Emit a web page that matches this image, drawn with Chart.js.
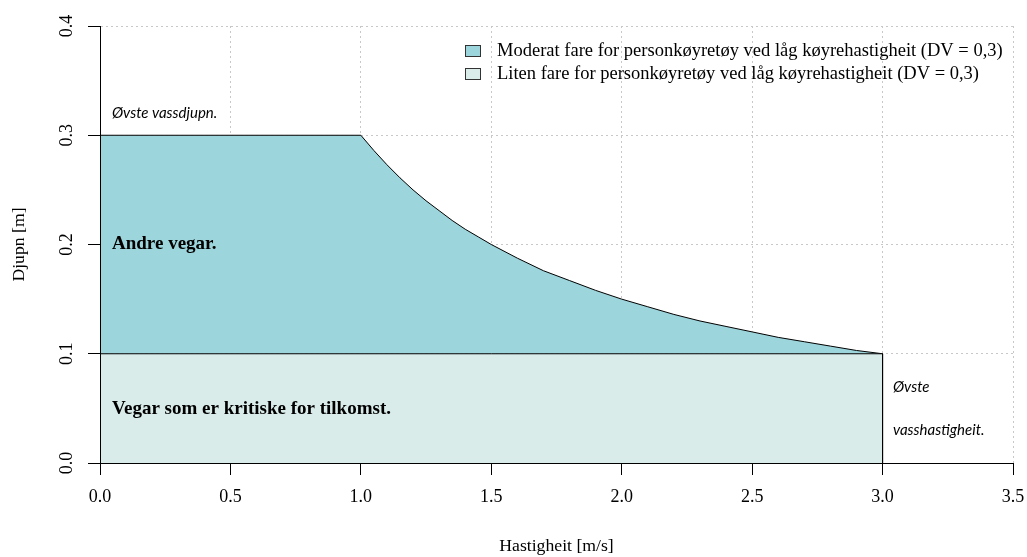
<!DOCTYPE html>
<html>
<head>
<meta charset="utf-8">
<script src="https://cdn.jsdelivr.net/npm/chart.js@4.4.1/dist/chart.umd.min.js"></script>
<style>
  html, body { margin: 0; padding: 0; background: #fff; }
  #wrap { width: 1027px; height: 557px; }
</style>
</head>
<body>
<div id="wrap"><canvas id="chart"></canvas></div>
<script>
// Hastigheit [m/s] og djupn [m] for dei to fareområda
const seriesLabels = [
  "Moderat fare for personkøyretøy ved låg køyrehastigheit (DV = 0,3)",
  "Liten fare for personkøyretøy ved låg køyrehastigheit (DV = 0,3)"
];
const moderatSpeed = [0, 0, 1.0, 1.05, 1.1, 1.15, 1.2, 1.25, 1.3, 1.35, 1.4, 1.45, 1.5, 1.6, 1.7, 1.8, 1.9,
  2.0, 2.1, 2.2, 2.3, 2.4, 2.5, 2.6, 2.7, 2.8, 2.9, 3.0];
const moderatDepth = [0.1, 0.3, 0.3, 0.286, 0.273, 0.261, 0.25, 0.24, 0.231, 0.222, 0.214, 0.207, 0.2, 0.1875, 0.176, 0.167, 0.158,
  0.15, 0.143, 0.136, 0.130, 0.125, 0.12, 0.115, 0.111, 0.107, 0.103, 0.1];
const litenSpeed = [0, 0, 3.0, 3.0];
const litenDepth = [0, 0.1, 0.1, 0];

const xTicks = [0, 0.5, 1.0, 1.5, 2.0, 2.5, 3.0, 3.5];
const yTicks = [0, 0.1, 0.2, 0.3, 0.4];

const moderatColor = "#9dd5dc";
const litenColor = "#d9ecea";

const toPoints = (xs, ys) => xs.map((x, i) => ({ x: x, y: ys[i] }));

// tekst inne i plottet, plassert i dataeiningar
const notes = [
  { text: "Øvste vassdjupn.", x: 0.046, y: 0.32, font: "italic 15px Lato" },
  { text: "Andre vegar.", x: 0.046, y: 0.2, font: "bold 19px 'Liberation Serif'" },
  { text: "Vegar som er kritiske for tilkomst.", x: 0.046, y: 0.049, font: "bold 19px 'Liberation Serif'" },
  { text: "Øvste", x: 3.04, y: 0.0695, font: "italic 15px Lato" },
  { text: "vasshastigheit.", x: 3.04, y: 0.0302, font: "italic 15px Lato" }
];

const notePlugin = {
  id: "notes",
  afterDatasetsDraw(chart) {
    const ctx = chart.ctx;
    const xs = chart.scales.x, ys = chart.scales.y;
    ctx.save();
    ctx.fillStyle = "#000";
    ctx.textBaseline = "middle";
    ctx.textAlign = "left";
    notes.forEach(n => {
      ctx.font = n.font;
      ctx.fillText(n.text, xs.getPixelForValue(n.x), ys.getPixelForValue(n.y));
    });
    ctx.restore();
  }
};

// forklaring oppe til høgre, som i R
const legendPlugin = {
  id: "rlegend",
  afterDraw(chart) {
    const ctx = chart.ctx;
    const left = 465, top = 50.5, step = 23;
    const fills = [moderatColor, litenColor];
    ctx.save();
    ctx.font = "18.5px 'Liberation Serif'";
    ctx.textBaseline = "middle";
    ctx.textAlign = "left";
    seriesLabels.forEach((lab, i) => {
      const cy = top + i * step;
      ctx.fillStyle = fills[i];
      ctx.fillRect(left, cy - 5.5, 15, 11);
      ctx.strokeStyle = "#333";
      ctx.lineWidth = 1;
      ctx.strokeRect(left + 0.5, cy - 5, 15, 11);
      ctx.fillStyle = "#000";
      ctx.fillText(lab, 497, cy + 1);
    });
    ctx.restore();
  }
};

const tickFont = { family: "'Liberation Serif'", size: 18 };
const titleFont = { family: "'Liberation Serif'", size: 17.7 };

new Chart(document.getElementById("chart"), {
  type: "line",
  data: {
    datasets: [
      {
        label: seriesLabels[1],
        data: toPoints(litenSpeed, litenDepth),
        borderColor: "#000",
        borderWidth: 1,
        backgroundColor: litenColor,
        fill: "origin",
        pointRadius: 0,
        tension: 0
      },
      {
        label: seriesLabels[0],
        data: toPoints(moderatSpeed, moderatDepth),
        borderColor: "#000",
        borderWidth: 1,
        backgroundColor: moderatColor,
        fill: { value: 0.1 },
        pointRadius: 0,
        tension: 0
      }
    ]
  },
  options: {
    responsive: true,
    maintainAspectRatio: false,
    animation: false,
    layout: { padding: { top: 26, right: 14, left: 0, bottom: 0 } },
    plugins: {
      legend: { display: false },
      tooltip: { enabled: false }
    },
    scales: {
      x: {
        type: "linear",
        min: 0,
        max: 3.5,
        afterBuildTicks: s => { s.ticks = xTicks.map(v => ({ value: v })); },
        afterFit: s => {
          s.height = 94;
          s.paddingLeft = 0;
          s.paddingRight = 0;
        },
        ticks: {
          color: "#000",
          font: tickFont,
          padding: 11,
          maxRotation: 0,
          callback: v => v.toFixed(1)
        },
        grid: {
          color: "#c8c8c8",
          tickColor: "#000",
          tickLength: 12,
          tickWidth: 1
        },
        border: { color: "#000", width: 1, dash: [2, 3], z: 1 },
        title: {
          display: true,
          text: "Hastigheit [m/s]",
          color: "#000",
          font: titleFont,
          padding: { top: 0, bottom: 0 }
        }
      },
      y: {
        type: "linear",
        min: 0,
        max: 0.4,
        afterBuildTicks: s => { s.ticks = yTicks.map(v => ({ value: v })); },
        afterFit: s => {
          s.width = 100;
          s.paddingTop = 0;
          s.paddingBottom = 0;
        },
        ticks: {
          color: "#000",
          font: tickFont,
          padding: 9,
          minRotation: 90,
          maxRotation: 90,
          crossAlign: "center",
          callback: v => v.toFixed(1)
        },
        grid: {
          color: "#c8c8c8",
          tickColor: "#000",
          tickLength: 12,
          tickWidth: 1
        },
        border: { color: "#000", width: 1, dash: [2, 3], z: 1 },
        title: {
          display: true,
          text: "Djupn [m]",
          color: "#000",
          font: titleFont,
          padding: { top: 9, bottom: 0 }
        }
      }
    }
  },
  plugins: [notePlugin, legendPlugin]
});
</script>
</body>
</html>
